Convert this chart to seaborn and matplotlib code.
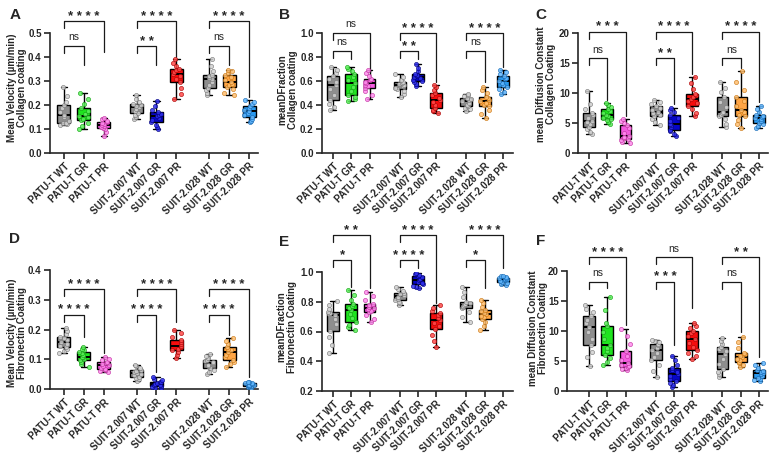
import numpy as np
import seaborn as sns
import matplotlib.pyplot as plt

groups = ['PATU-T WT', 'PATU-T GR', 'PATU-T PR',
          'SUIT-2.007 WT', 'SUIT-2.007 GR', 'SUIT-2.007 PR',
          'SUIT-2.028 WT', 'SUIT-2.028 GR', 'SUIT-2.028 PR']

# values (13 per group, so quartiles land on the boxes)
vel_col = [
    [0.118, 0.121, 0.123, 0.125, 0.134, 0.148, 0.160, 0.171, 0.186, 0.198, 0.214, 0.236, 0.275],
    [0.100, 0.112, 0.127, 0.136, 0.141, 0.149, 0.153, 0.162, 0.177, 0.188, 0.205, 0.226, 0.250],
    [0.070, 0.089, 0.098, 0.104, 0.109, 0.114, 0.118, 0.121, 0.125, 0.128, 0.134, 0.140, 0.146],
    [0.142, 0.150, 0.158, 0.167, 0.174, 0.183, 0.190, 0.195, 0.201, 0.205, 0.214, 0.227, 0.243],
    [0.100, 0.109, 0.118, 0.128, 0.137, 0.146, 0.153, 0.158, 0.164, 0.170, 0.181, 0.197, 0.215],
    [0.225, 0.246, 0.271, 0.295, 0.308, 0.321, 0.330, 0.337, 0.344, 0.350, 0.362, 0.377, 0.390],
    [0.240, 0.251, 0.262, 0.270, 0.284, 0.297, 0.308, 0.314, 0.320, 0.326, 0.341, 0.362, 0.390],
    [0.240, 0.252, 0.266, 0.275, 0.282, 0.289, 0.295, 0.304, 0.316, 0.326, 0.333, 0.341, 0.347],
    [0.128, 0.135, 0.143, 0.150, 0.158, 0.167, 0.174, 0.181, 0.188, 0.194, 0.203, 0.213, 0.222],
]
dfrac_col = [
    [0.360, 0.382, 0.405, 0.440, 0.487, 0.533, 0.570, 0.591, 0.618, 0.640, 0.663, 0.690, 0.720],
    [0.430, 0.448, 0.466, 0.480, 0.517, 0.552, 0.580, 0.607, 0.634, 0.660, 0.684, 0.703, 0.720],
    [0.450, 0.482, 0.515, 0.540, 0.556, 0.569, 0.580, 0.594, 0.607, 0.620, 0.642, 0.668, 0.690],
    [0.470, 0.492, 0.513, 0.530, 0.545, 0.559, 0.570, 0.576, 0.583, 0.590, 0.608, 0.633, 0.660],
    [0.560, 0.574, 0.588, 0.600, 0.611, 0.621, 0.630, 0.641, 0.652, 0.660, 0.682, 0.711, 0.740],
    [0.330, 0.346, 0.361, 0.375, 0.398, 0.421, 0.440, 0.462, 0.483, 0.500, 0.521, 0.547, 0.570],
    [0.350, 0.364, 0.378, 0.390, 0.403, 0.418, 0.430, 0.441, 0.452, 0.460, 0.471, 0.482, 0.490],
    [0.290, 0.327, 0.362, 0.390, 0.404, 0.418, 0.430, 0.443, 0.457, 0.470, 0.496, 0.523, 0.550],
    [0.490, 0.511, 0.532, 0.550, 0.568, 0.585, 0.600, 0.614, 0.628, 0.640, 0.657, 0.674, 0.690],
]
diff_col = [
    [3.2, 3.5, 4.0, 4.4, 4.8, 5.1, 5.4, 5.8, 6.3, 6.7, 7.3, 8.2, 10.3],
    [4.9, 5.2, 5.5, 5.7, 5.9, 6.2, 6.4, 6.7, 7.0, 7.3, 7.7, 8.0, 8.4],
    [1.7, 1.9, 2.2, 2.4, 2.5, 2.7, 2.8, 3.4, 4.1, 4.7, 5.0, 5.3, 5.6],
    [4.7, 5.2, 5.7, 6.1, 6.4, 6.7, 6.9, 7.2, 7.5, 7.8, 8.1, 8.5, 8.9],
    [2.8, 3.2, 3.6, 3.9, 4.3, 4.6, 4.9, 5.4, 5.9, 6.4, 6.8, 7.2, 7.5],
    [6.1, 6.7, 7.3, 7.9, 8.3, 8.7, 9.0, 9.3, 9.6, 9.9, 10.6, 11.6, 12.7],
    [4.3, 4.9, 5.6, 6.2, 6.4, 6.6, 6.8, 7.6, 8.5, 9.4, 10.1, 10.9, 11.8],
    [4.2, 4.9, 5.5, 6.1, 6.4, 6.8, 7.1, 7.9, 8.7, 9.4, 10.5, 11.9, 13.6],
    [4.2, 4.5, 4.8, 5.0, 5.3, 5.6, 5.8, 6.0, 6.2, 6.4, 6.8, 7.3, 7.9],
]
vel_fib = [
    [0.120, 0.128, 0.135, 0.140, 0.146, 0.152, 0.158, 0.164, 0.170, 0.176, 0.184, 0.194, 0.204],
    [0.074, 0.083, 0.091, 0.098, 0.102, 0.106, 0.109, 0.114, 0.120, 0.126, 0.130, 0.135, 0.140],
    [0.056, 0.060, 0.064, 0.067, 0.072, 0.077, 0.081, 0.085, 0.089, 0.092, 0.097, 0.102, 0.107],
    [0.026, 0.032, 0.037, 0.042, 0.046, 0.050, 0.054, 0.058, 0.062, 0.065, 0.070, 0.076, 0.082],
    [0.002, 0.005, 0.008, 0.011, 0.013, 0.015, 0.017, 0.020, 0.023, 0.025, 0.030, 0.035, 0.041],
    [0.103, 0.113, 0.123, 0.131, 0.136, 0.141, 0.146, 0.152, 0.159, 0.165, 0.176, 0.188, 0.200],
    [0.049, 0.057, 0.065, 0.072, 0.077, 0.082, 0.086, 0.090, 0.094, 0.097, 0.103, 0.110, 0.117],
    [0.075, 0.083, 0.090, 0.097, 0.106, 0.115, 0.123, 0.130, 0.136, 0.142, 0.152, 0.163, 0.173],
    [0.005, 0.007, 0.009, 0.010, 0.011, 0.012, 0.013, 0.015, 0.017, 0.019, 0.021, 0.023, 0.025],
]
dfrac_fib = [
    [0.456, 0.510, 0.565, 0.605, 0.648, 0.684, 0.710, 0.717, 0.724, 0.730, 0.752, 0.778, 0.804],
    [0.611, 0.628, 0.646, 0.662, 0.692, 0.720, 0.744, 0.759, 0.773, 0.787, 0.815, 0.846, 0.878],
    [0.662, 0.686, 0.709, 0.729, 0.740, 0.751, 0.760, 0.768, 0.776, 0.784, 0.810, 0.838, 0.867],
    [0.778, 0.789, 0.801, 0.811, 0.820, 0.829, 0.838, 0.846, 0.854, 0.862, 0.875, 0.888, 0.900],
    [0.893, 0.901, 0.909, 0.916, 0.925, 0.935, 0.944, 0.954, 0.964, 0.973, 0.980, 0.987, 0.993],
    [0.493, 0.535, 0.577, 0.616, 0.638, 0.659, 0.678, 0.693, 0.708, 0.722, 0.741, 0.760, 0.778],
    [0.665, 0.697, 0.728, 0.755, 0.763, 0.772, 0.780, 0.787, 0.794, 0.800, 0.833, 0.867, 0.900],
    [0.610, 0.636, 0.662, 0.685, 0.695, 0.705, 0.715, 0.725, 0.735, 0.745, 0.767, 0.789, 0.810],
    [0.910, 0.918, 0.927, 0.935, 0.940, 0.945, 0.950, 0.953, 0.957, 0.960, 0.965, 0.970, 0.975],
]
diff_fib = [
    [4.2, 5.6, 6.5, 7.6, 8.7, 9.8, 10.7, 11.3, 11.9, 12.5, 13.1, 13.7, 14.3],
    [4.4, 4.9, 5.5, 6.0, 6.6, 7.1, 7.6, 8.7, 9.8, 10.9, 11.4, 13.5, 15.7],
    [3.5, 3.7, 3.8, 4.0, 4.2, 4.4, 4.6, 5.2, 5.9, 6.6, 7.8, 9.1, 10.4],
    [2.3, 3.4, 4.3, 5.1, 5.7, 6.3, 6.9, 7.2, 7.6, 7.9, 8.1, 8.3, 8.5],
    [0.7, 1.0, 1.3, 1.6, 2.0, 2.5, 2.9, 3.2, 3.5, 3.8, 4.4, 5.1, 5.8],
    [5.3, 5.8, 6.3, 6.8, 7.4, 8.0, 8.6, 9.1, 9.6, 10.0, 10.5, 10.9, 11.4],
    [2.3, 2.8, 3.2, 3.7, 4.5, 5.4, 6.2, 6.6, 7.0, 7.4, 7.9, 8.4, 8.9],
    [4.0, 4.3, 4.6, 4.8, 5.1, 5.4, 5.7, 5.9, 6.2, 6.4, 7.2, 8.1, 9.0],
    [1.6, 1.8, 2.0, 2.2, 2.5, 2.8, 3.0, 3.2, 3.4, 3.5, 3.9, 4.3, 4.7],
]

# significance: per cell line, (WT vs GR, WT vs PR)
sig_vel_col = [('ns', '****'), ('**', '****'), ('ns', '****')]
sig_dfrac_col = [('ns', 'ns'), ('**', '****'), ('ns', '****')]
sig_diff_col = [('ns', '***'), ('**', '****'), ('ns', '****')]
sig_vel_fib = [('****', '****'), ('****', '****'), ('****', '****')]
sig_dfrac_fib = [('*', '**'), ('****', '****'), ('*', '****')]
sig_diff_fib = [('ns', '****'), ('***', 'ns'), ('ns', '**')]

ylabels = ['Mean Velocity (µm/min)\nCollagen coating',
           'meanDFraction\nCollagen coating',
           'mean Diffusion Constant\nCollagen Coating',
           'Mean Velocity (µm/min)\nFibronectin Coating',
           'meanDFraction\nFibronectin Coating',
           'mean Diffusion Constant\nFibronectin Coating']

# ---- styling / layout ----
box_colors = ['#8e8e8e', '#1fe41f', '#f45ce0', '#8e8e8e', '#0606c8', '#f50d0d',
              '#8e8e8e', '#ffa545', '#2a9af0']
pt_fill = ['#d2d2d2', '#5cf05c', '#ff8cee', '#d2d2d2', '#3030f0', '#ff4a4a',
           '#d2d2d2', '#ffbf70', '#62b8ff']
pt_edge = ['#777777', '#10a010', '#c0309f', '#777777', '#00007a', '#a80000',
           '#777777', '#c87512', '#1466b0']
positions = [0, 1, 2, 3.65, 4.65, 5.65, 7.3, 8.3, 9.3]

W, H = 779, 455
sns.set_style('ticks')
plt.rcParams['font.family'] = ['Liberation Sans', 'DejaVu Sans']
plt.rcParams['axes.linewidth'] = 1.2
np.random.seed(7)

fig = plt.figure(figsize=(W / 100, H / 100), dpi=100)

# axes in pixels: (left, top, right, bottom), x limits, y limits, ticks
panels = [
    dict(data=vel_col, sig=sig_vel_col, rect=(50, 33, 258, 153), xlim=(-0.70, 9.75),
         ylim=(0, 0.5), yticks=np.arange(0, 0.51, 0.1), fmt='{:.1f}', letter='A',
         letter_xy=(15, 15), label_xy=(17, 88), levels=(0.446, 0.55),
         ends=[0.367, 0.42, 0.367, 0.40, 0.367, 0.233]),
    dict(data=dfrac_col, sig=sig_dfrac_col, rect=(322, 33, 513, 153), xlim=(-0.60, 9.85),
         ylim=(0, 1.0), yticks=np.arange(0, 1.01, 0.2), fmt='{:.1f}', letter='B',
         letter_xy=(284, 15), label_xy=(288, 90), levels=(0.85, 1.0),
         ends=[0.78, 0.675, 0.78, 0.59, 0.59, 0.72]),
    dict(data=diff_col, sig=sig_diff_col, rect=(578, 33, 768, 153), xlim=(-0.60, 9.79),
         ylim=(0, 20), yticks=np.arange(0, 21, 5), fmt='{:.0f}', letter='C',
         letter_xy=(541, 15), label_xy=(546, 84), levels=(15.8, 20.2),
         ends=[8.9, 6.2, 8.1, 13.2, 14.1, 8.5]),
    dict(data=vel_fib, sig=sig_vel_fib, rect=(50, 270, 258, 389), xlim=(-0.70, 9.75),
         ylim=(0, 0.4), yticks=np.arange(0, 0.41, 0.1), fmt='{:.1f}', letter='D',
         letter_xy=(14.5, 239), label_xy=(17, 333), levels=(0.249, 0.336),
         ends=[0.175, 0.12, 0.057, 0.225, 0.18, 0.04]),
    dict(data=dfrac_fib, sig=sig_dfrac_fib, rect=(322, 272, 513, 391), xlim=(-0.60, 9.85),
         ylim=(0.2, 1.0), yticks=np.arange(0.2, 1.01, 0.2), fmt='{:.1f}', letter='E',
         letter_xy=(284, 241.5), label_xy=(287, 327), levels=(1.08, 1.249),
         ends=[0.9, 0.89, 1.03, 0.79, 0.89, 1.03]),
    dict(data=diff_fib, sig=sig_diff_fib, rect=(567, 271, 768, 391), xlim=(-1.20, 9.79),
         ylim=(0, 20), yticks=np.arange(0, 21, 5), fmt='{:.0f}', letter='F',
         letter_xy=(541, 241), label_xy=(538, 328), levels=(18.2, 22.3),
         ends=[17.2, 11.0, 7.7, 13.8, 9.8, 5.7]),
]

for p, ylab in zip(panels, ylabels):
    x0, y0, x1, y1 = p['rect']
    ax = fig.add_axes([x0 / W, 1 - y1 / H, (x1 - x0) / W, (y1 - y0) / H])

    for k, vals in enumerate(p['data']):
        xs = np.full(len(vals), positions[k])
        sns.boxplot(x=xs, y=vals, native_scale=True, orient='x', color=box_colors[k],
                    saturation=1, width=0.65, whis=(0, 100), showfliers=False,
                    linecolor='black', linewidth=1.0, ax=ax,
                    medianprops=dict(color='black', linewidth=1.4))
        sns.stripplot(x=xs, y=vals, native_scale=True, orient='x', color=pt_fill[k],
                      edgecolor=pt_edge[k], linewidth=0.5, size=3.0, jitter=0.26,
                      alpha=0.85, ax=ax, zorder=4)

    ax.set_xlim(*p['xlim'])
    ax.set_ylim(*p['ylim'])
    ax.set_yticks(p['yticks'], [p['fmt'].format(v) for v in p['yticks']],
                  fontsize=7, fontweight='bold')
    ax.set_xticks(positions, groups, rotation=45, ha='right', rotation_mode='anchor',
                  fontsize=7, fontweight='bold')
    ax.tick_params(axis='both', length=4, width=1.2, pad=2)
    ax.set_xlabel('')
    ax.set_ylabel('')
    sns.despine(ax=ax)

    # significance brackets
    dpp = (p['ylim'][1] - p['ylim'][0]) / (y1 - y0)
    for g in range(3):
        xi = positions[3 * g]
        for lvl in range(2):
            xj = positions[3 * g + 1 + lvl]
            top = p['levels'][lvl]
            end = p['ends'][2 * g + lvl]
            ax.plot([xi, xi, xj, xj], [top - 7 * dpp, top, top, end],
                    color='#1a1a1a', lw=0.9, clip_on=False)
            lab = p['sig'][g][lvl]
            if lab == 'ns':
                ax.annotate(lab, xy=((xi + xj) / 2, top), xytext=(0, 6.2),
                            textcoords='offset points', ha='center', va='center',
                            fontsize=7.5, annotation_clip=False)
            else:
                ax.annotate(' '.join(lab), xy=((xi + xj) / 2, top), xytext=(0, 3.2),
                            textcoords='offset points', ha='center', va='center',
                            fontsize=9.5, fontweight='bold', annotation_clip=False)

    fig.text(p['label_xy'][0] / W, 1 - p['label_xy'][1] / H, ylab, rotation=90,
             ha='center', va='center', fontsize=7, fontweight='bold',
             linespacing=1.05)
    fig.text(p['letter_xy'][0] / W, 1 - p['letter_xy'][1] / H, p['letter'],
             ha='center', va='center', fontsize=11, fontweight='bold')

fig.savefig('out.png', dpi=100)
